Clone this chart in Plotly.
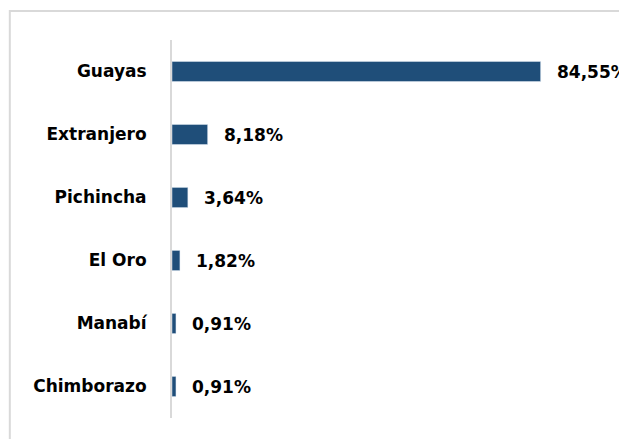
import plotly.graph_objects as go

provincias = ["Guayas", "Extranjero", "Pichincha", "El Oro", "Manabí", "Chimborazo"]
porcentajes = [84.55, 8.18, 3.64, 1.82, 0.91, 0.91]
etiquetas = ["84,55%", "8,18%", "3,64%", "1,82%", "0,91%", "0,91%"]

fuente = dict(family="DejaVu Sans", size=17, color="black")

fig = go.Figure(go.Bar(
    x=porcentajes, y=provincias, orientation="h",
    marker=dict(color="#1F4E79"),
    width=0.32,
    hoverinfo="skip",
))

for prov, val, txt in zip(provincias, porcentajes, etiquetas):
    fig.add_annotation(x=val, y=prov, text="<b>%s</b>" % txt, showarrow=False,
                       xanchor="left", xshift=14, font=fuente)

# borde gris del area del grafico
fig.add_shape(type="rect", xref="paper", yref="paper",
              x0=-0.372, y0=-0.3, x1=1.3, y1=1.077,
              line=dict(color="#d9d9d9", width=2), layer="below")

fig.update_layout(
    width=619, height=431,
    margin=dict(l=164, r=19, t=32, b=21),
    plot_bgcolor="white", paper_bgcolor="white",
    showlegend=False,
    font=fuente,
    xaxis=dict(range=[0, 100], visible=False),
    yaxis=dict(autorange="reversed", showline=True, linecolor="#d9d9d9", linewidth=2,
               ticks="", ticklabelstandoff=20, tickfont=fuente,
               tickvals=provincias, ticktext=["<b>%s</b>" % p for p in provincias]),
)

fig.write_html("out.html")
